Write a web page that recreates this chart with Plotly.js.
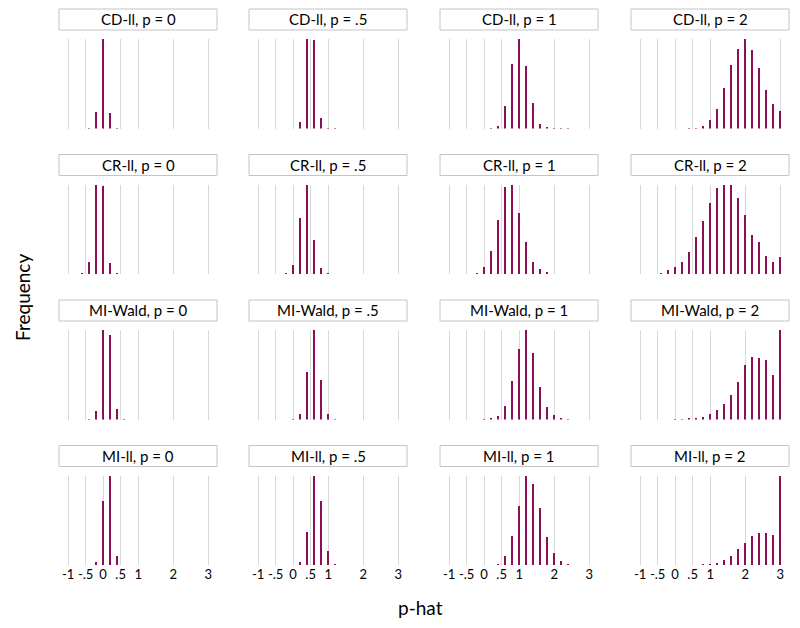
<!DOCTYPE html>
<html><head><meta charset="utf-8">
<script src="https://cdn.plot.ly/plotly-3.0.1.min.js"></script>
<style>html,body{margin:0;padding:0;background:#fff}#chart{width:800px;height:628px}</style>
</head><body><div id="chart"></div>
<script>
// Bin centres of p-hat (step .2)
const pHatBins = [-1,-0.8,-0.6,-0.4,-0.2,0,0.2,0.4,0.6,0.8,1,1.2,1.4,1.6,1.8,2,2.2,2.4,2.6,2.8,3];
const tickValues = [-1,-0.5,0,0.5,1,2,3];
const tickLabels = ['-1','-.5','0','.5','1','2','3'];
const methods = ['CD-ll','CR-ll','MI-Wald','MI-ll'];
const trueP = ['0','.5','1','2'];

// Relative frequencies (per panel, max = 100), one value per bin
const freqCD_p0   = [0,0,0,0.3,18,100,17,0.3,0,0,0,0,0,0,0,0,0,0,0,0,0];
const freqCD_p05  = [0,0,0,0,0,0,7.5,100,99,12,1,0.5,0,0,0,0,0,0,0,0,0];
const freqCD_p1   = [0,0,0,0,0,0,1,3,25,72,100,70,28,5,1.5,0.4,0.3,0.3,0,0,0];
const freqCD_p2   = [0,0,0,0,0,0,0,0.7,1,2.6,9.3,22,45,70.5,88.5,100,87.3,67.5,43.3,27,20];

const freqCR_p0   = [0,0.3,0.7,13,100,98.5,12.5,0.7,0,0,0,0,0,0,0,0,0,0,0,0,0];
const freqCR_p05  = [0,0,0.3,0.5,0.7,9.6,63,100,37.6,6.3,0.7,0.3,0,0,0,0,0,0,0,0,0];
const freqCR_p1   = [0,0,0.3,0.4,1.5,7.7,26,60.5,97.4,100,68,35.4,13.7,5.5,1.8,0.4,0.3,0,0,0,0];
const freqCR_p2   = [0.4,0.4,0.5,1.1,4,7.7,13,24.4,41,59,79,95.6,99.3,100,84.5,66.4,44,36,20,13,18.5];

const freqMIW_p0  = [0,0,0,0.3,10,100,94,11.7,0.3,0,0,0,0,0,0,0,0,0,0,0,0];
const freqMIW_p05 = [0,0,0,0,0,0.3,6.2,53,100,44,5.8,1,0,0,0,0,0,0,0,0,0];
const freqMIW_p1  = [0,0,0,0,0,0.4,1.5,3.6,15,43,79,100,74,36,14,4.7,1.5,0.7,0,0,0];
const freqMIW_p2  = [0,0,0,0,0,0.3,1,1.5,1.8,3,5.8,11,17.5,27,42,61,70,69,67,50,100];

const freqMIL_p0  = [0,0,0,0,3.4,71,100,10,0.3,0,0,0,0,0,0,0,0,0,0,0,0];
const freqMIL_p05 = [0,0,0,0,0,0,3.4,37,100,71,16,0.7,0,0,0,0,0,0,0,0,0];
const freqMIL_p1  = [0,0,0,0,0,0,0,0.7,10,32,66,100,90,64,31,13,4,1,0,0,0];
const freqMIL_p2  = [0,0,0,0,0,0,0,0,0.5,0.7,1.5,2.2,5.6,10,18,25,32.5,35.5,35.5,34,100];

const panelFreqs = [
  [freqCD_p0, freqCD_p05, freqCD_p1, freqCD_p2],
  [freqCR_p0, freqCR_p05, freqCR_p1, freqCR_p2],
  [freqMIW_p0, freqMIW_p05, freqMIW_p1, freqMIW_p2],
  [freqMIL_p0, freqMIL_p05, freqMIL_p1, freqMIL_p2]
];

// ---- layout geometry (pixels) ----
const W = 800, H = 628;
const colLeft = [59, 249, 440, 631];
const panelW = 158;
const rowTop = [39, 184.5, 330, 475.5];
const panelH = 89.5;
const barColor = 'rgb(140,14,88)';
const FONT = 'Lato, "Open Sans", sans-serif';

const traces = [];
const layout = {
  width: W, height: H,
  margin: {l:0, r:0, t:0, b:0},
  paper_bgcolor: '#fff', plot_bgcolor: '#fff',
  showlegend: false,
  bargap: 0,
  shapes: [], annotations: [],
  font: {family: FONT, color: '#000'}
};

for (let r = 0; r < 4; r++) {
  for (let c = 0; c < 4; c++) {
    const k = r * 4 + c + 1;
    const xa = 'xaxis' + (k === 1 ? '' : k), ya = 'yaxis' + (k === 1 ? '' : k);
    const xr = 'x' + (k === 1 ? '' : k), yr = 'y' + (k === 1 ? '' : k);
    const vals = panelFreqs[r][c];
    traces.push({
      type: 'bar', x: pHatBins, y: vals, xaxis: xr, yaxis: yr,
      width: 0.058, marker: {color: barColor, line: {width: 0}},
      hoverinfo: 'x+y'
    });
    const l = colLeft[c], t = rowTop[r];
    layout[xa] = {
      domain: [l / W, (l + panelW) / W],
      range: [-1.26, 3.25],
      tickmode: 'array', tickvals: tickValues, ticktext: tickLabels,
      showticklabels: r === 3, ticks: '',
      tickfont: {size: 13, family: FONT, color: '#000'},
      showgrid: true, gridcolor: '#d8d8d8', gridwidth: 1,
      zeroline: false, showline: false, anchor: yr, fixedrange: true
    };
    layout[ya] = {
      domain: [1 - (t + panelH) / H, 1 - t / H],
      range: [0, Math.max(...vals)],
      showticklabels: false, showgrid: false, zeroline: false, showline: false,
      ticks: '', anchor: xr, fixedrange: true
    };
    // strip box
    layout.shapes.push({
      type: 'rect', xref: 'paper', yref: 'paper',
      x0: l / W, x1: (l + panelW) / W,
      y0: 1 - (t - 9) / H, y1: 1 - (t - 30) / H,
      line: {color: '#c4c4c4', width: 1}, fillcolor: '#fff'
    });
    layout.annotations.push({
      xref: 'paper', yref: 'paper',
      x: (l + panelW / 2) / W, y: 1 - (t - 19.5) / H,
      xanchor: 'center', yanchor: 'middle',
      text: methods[r] + ', p = ' + trueP[c], showarrow: false,
      font: {size: 15, family: FONT, color: '#000'}
    });
  }
}

layout.annotations.push({
  xref: 'paper', yref: 'paper', x: 420 / W, y: 1 - 607 / H,
  xanchor: 'center', yanchor: 'middle', showarrow: false,
  text: 'p-hat', font: {size: 19, family: FONT, color: '#000'}
});
layout.annotations.push({
  xref: 'paper', yref: 'paper', x: 22 / W, y: 1 - 298 / H,
  xanchor: 'center', yanchor: 'middle', showarrow: false, textangle: -90,
  text: 'Frequency', font: {size: 19, family: FONT, color: '#000'}
});

Plotly.newPlot('chart', traces, layout, {staticPlot: true, displayModeBar: false});
</script>
</body></html>
